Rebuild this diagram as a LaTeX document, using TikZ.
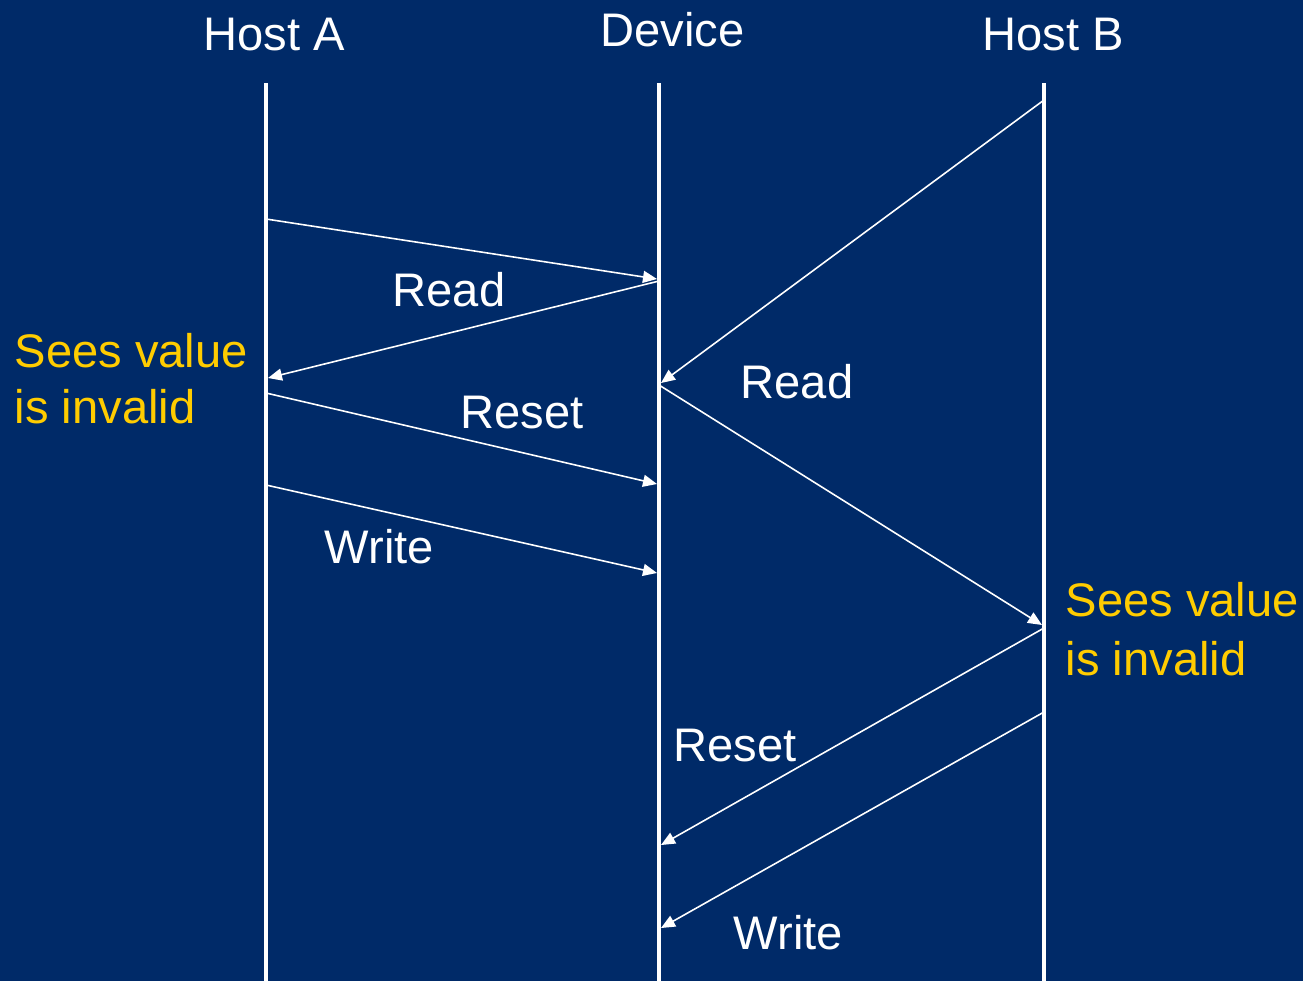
\documentclass[tikz,border=0pt]{standalone}
\usepackage{fontspec}
\setmainfont{Liberation Sans}
\usetikzlibrary{arrows.meta}
\definecolor{navy}{RGB}{0,42,104}
\definecolor{gold}{RGB}{255,204,0}
\begin{document}
\begin{tikzpicture}[x=0.01cm,y=-0.01cm,
  life/.style={draw=white,line width=1.2pt},
  msg/.style={draw=white,line width=0.45pt,-{Triangle[length=0.14cm,width=0.12cm]}},
  lbl/.style={text=white,inner sep=0,anchor=base west,font=\fontsize{13.4}{16}\selectfont},
  note/.style={lbl,text=gold}]
\fill[navy] (0,0) rectangle (1303,981);
\useasboundingbox (0,0) rectangle (1303,981);
% lifelines
\coordinate (a0) at (266,83); \coordinate (a1) at (266,981);
\coordinate (d0) at (659,83); \coordinate (d1) at (659,981);
\coordinate (b0) at (1044,83); \coordinate (b1) at (1044,981);
\draw[life] (a0) -- (a1);
\draw[life] (d0) -- (d1);
\draw[life] (b0) -- (b1);
% headers
\node[lbl] (hA) at (203,50) {Host A};
\node[lbl] (hD) at (600,46) {Device};
\node[lbl] (hB) at (982,50) {Host B};
% message endpoints
\coordinate (m1s) at (266,219); \coordinate (m1e) at (657,279);
\coordinate (m2s) at (659,281); \coordinate (m2e) at (268,378);
\coordinate (m3s) at (1044,100); \coordinate (m3e) at (661,383);
\coordinate (m4s) at (266,393); \coordinate (m4e) at (657,484);
\coordinate (m5s) at (266,485); \coordinate (m5e) at (657,573);
\coordinate (m6s) at (659,385); \coordinate (m6e) at (1042,625);
\coordinate (m7s) at (1044,628); \coordinate (m7e) at (661,845);
\coordinate (m8s) at (1044,712); \coordinate (m8e) at (661,928);
\draw[msg] (m1s) -- (m1e);
\draw[msg] (m2s) -- (m2e);
\draw[msg] (m3s) -- (m3e);
\draw[msg] (m4s) -- (m4e);
\draw[msg] (m5s) -- (m5e);
\draw[msg] (m6s) -- (m6e);
\draw[msg] (m7s) -- (m7e);
\draw[msg] (m8s) -- (m8e);
% labels
\node[lbl] (l1) at (392,306) {Read};
\node[lbl] (l2) at (740,398) {Read};
\node[lbl] (l3) at (460,428) {Reset};
\node[lbl] (l4) at (324,563) {Write};
\node[lbl] (l5) at (673,761) {Reset};
\node[lbl] (l6) at (733,949) {Write};
% notes
\node[note] (nA1) at (14,367) {Sees value};
\node[note] (nA2) at (14,423) {is invalid};
\node[note] (nB1) at (1065,616) {Sees value};
\node[note] (nB2) at (1065,675) {is invalid};
\end{tikzpicture}
\end{document}
